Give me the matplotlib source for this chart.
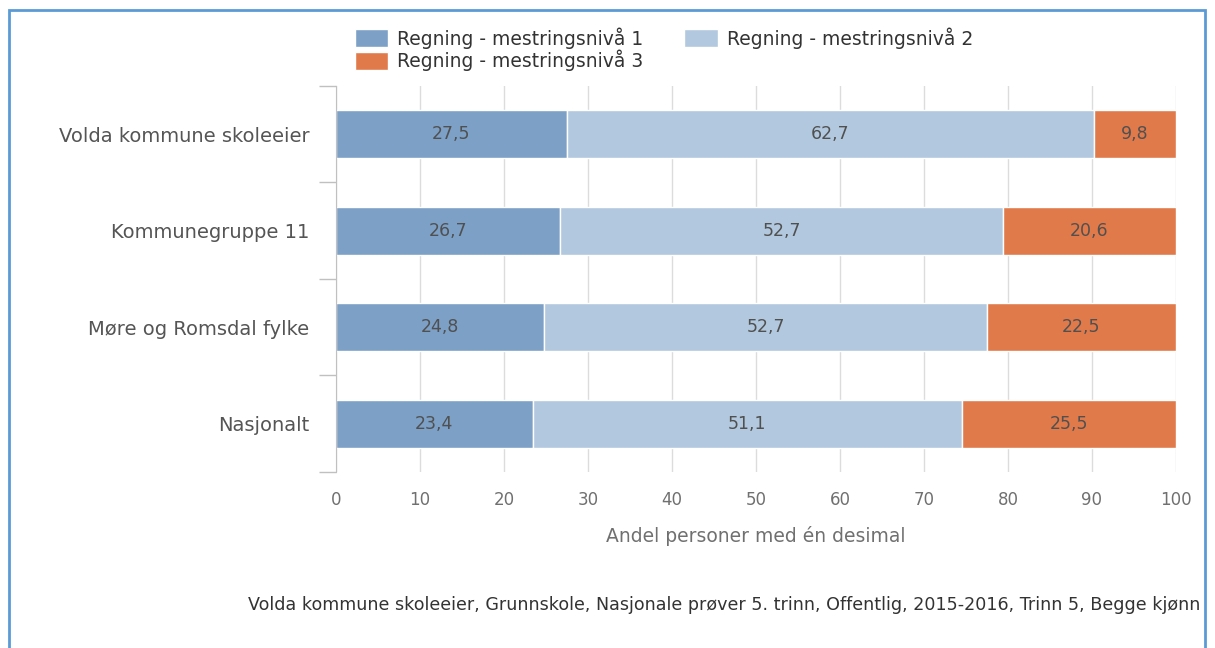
import matplotlib.pyplot as plt
from matplotlib.patches import Rectangle

categories = ["Volda kommune skoleeier", "Kommunegruppe 11", "Møre og Romsdal fylke", "Nasjonalt"]
niva1 = [27.5, 26.7, 24.8, 23.4]
niva2 = [62.7, 52.7, 52.7, 51.1]
niva3 = [9.8, 20.6, 22.5, 25.5]
series_names = ["Regning - mestringsnivå 1", "Regning - mestringsnivå 2", "Regning - mestringsnivå 3"]
colors = ["#7ca0c6", "#b2c8de", "#e07a4b"]

fig = plt.figure(figsize=(12.15, 6.48), dpi=100)
ax = fig.add_axes([0.2765, 0.2716, 0.6914, 0.5957])

y = list(range(len(categories)))
left = [0] * len(categories)
bars = []
for vals, col, name in zip([niva1, niva2, niva3], colors, series_names):
    b = ax.barh(y, vals, left=left, height=0.5, color=col, edgecolor="white",
                linewidth=1, label=name)
    bars.append(b)
    for yi, v, l in zip(y, vals, left):
        ax.text(l + v / 2, yi, f"{v:.1f}".replace(".", ","), ha="center", va="center",
                fontsize=12.5, color="#505050")
    left = [a + b_ for a, b_ in zip(left, vals)]

ax.set_xlim(0, 100)
ax.set_ylim(3.5, -0.5)
ax.set_xticks(range(0, 101, 10))
ax.set_yticks(y)
ax.set_yticklabels(categories)
ax.set_yticks([i - 0.5 for i in range(len(categories) + 1)], minor=True)
ax.tick_params(axis="y", which="major", length=0, pad=19, labelsize=14, labelcolor="#555555")
ax.tick_params(axis="y", which="minor", length=12, width=1, color="#c0c0c0")
ax.tick_params(axis="x", length=0, pad=14, labelsize=12, labelcolor="#707070")
ax.grid(axis="x", color="#dcdcdc", linewidth=1)
ax.set_axisbelow(True)
for s in ["top", "right", "bottom"]:
    ax.spines[s].set_visible(False)
ax.spines["left"].set_color("#c0c0c0")
ax.set_xlabel("Andel personer med én desimal", fontsize=13.5, color="#707070", labelpad=12)

handles = [bars[0], bars[2], bars[1]]
labels = [series_names[0], series_names[2], series_names[1]]
fig.legend(handles, labels, ncol=2, loc="upper left", bbox_to_anchor=(0.278, 0.984),
           frameon=False, fontsize=13.5, handlelength=1.8, handleheight=1.1,
           handletextpad=0.45, columnspacing=2.2, labelspacing=0.05, labelcolor="#333333")

fig.text(0.988, 0.067, "Volda kommune skoleeier, Grunnskole, Nasjonale prøver 5. trinn, Offentlig, 2015-2016, Trinn 5, Begge kjønn",
         ha="right", va="center", fontsize=12.6, color="#333333")

fig.patches.append(Rectangle((0.0075, -0.05), 0.984, 1.035, transform=fig.transFigure,
                             fill=False, edgecolor="#5b9bd5", linewidth=2))

fig.savefig("out.png", dpi=100)
